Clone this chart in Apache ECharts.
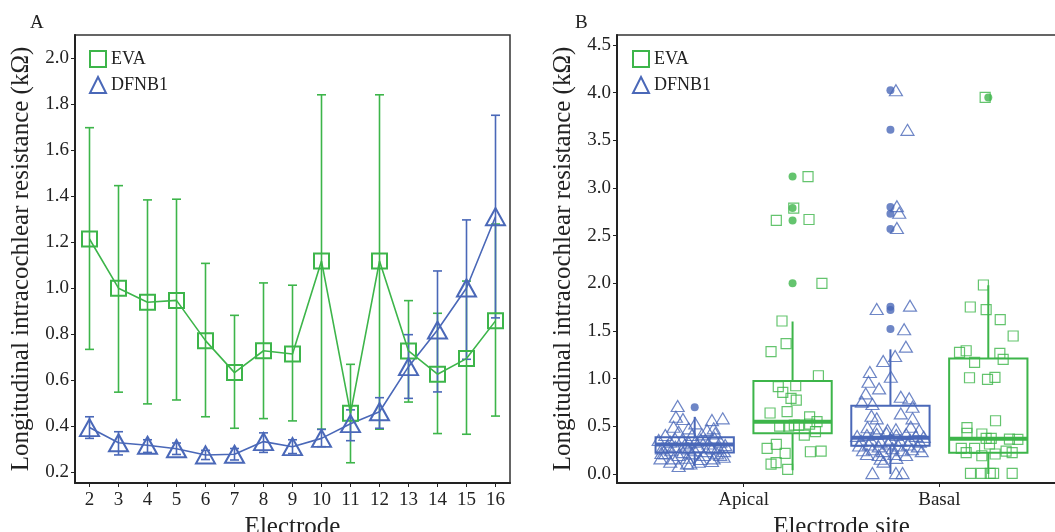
<!DOCTYPE html>
<html>
<head>
<meta charset="utf-8">
<script src="https://cdn.jsdelivr.net/npm/echarts@6/dist/echarts.min.js"></script>
<style>html,body{margin:0;padding:0;background:#fff}#main{width:1055px;height:532px}</style>
</head>
<body>
<div id="main"></div>
<script>
// panel A: mean resistance per electrode with error bars
var electrodes = ['2','3','4','5','6','7','8','9','10','11','12','13','14','15','16'];
var evaMean  = [1.213,0.999,0.938,0.946,0.771,0.632,0.727,0.713,1.117,0.455,1.117,0.726,0.625,0.693,0.857];
var evaLow   = [0.733,0.547,0.496,0.513,0.440,0.390,0.432,0.422,0.386,0.240,0.386,0.504,0.367,0.364,0.443];
var evaHigh  = [1.697,1.445,1.383,1.386,1.107,0.881,1.022,1.012,1.840,0.668,1.840,0.945,0.890,1.030,1.278];
var dfnbMean = [0.393,0.327,0.316,0.301,0.274,0.277,0.332,0.310,0.346,0.410,0.462,0.658,0.817,1.000,1.310];
var dfnbLow  = [0.346,0.274,0.285,0.276,0.254,0.252,0.285,0.280,0.310,0.336,0.390,0.520,0.548,0.690,0.870];
var dfnbHigh = [0.440,0.375,0.340,0.326,0.294,0.302,0.370,0.340,0.385,0.470,0.523,0.797,1.074,1.296,1.751];

// panel B: box stats per site [min, q1, median, q3, max]
var sites = ['Apical','Basal'];
var dfnbBox = [[0.085,0.225,0.31,0.385,0.60],[0.0,0.297,0.38,0.717,1.308]];
var evaBox  = [[0.04,0.427,0.549,0.976,1.60],[0.0,0.224,0.37,1.213,1.98]];
var dfnbOut = [[0.70],[1.52,1.72,1.755,2.57,2.73,2.80,3.61,4.025]];
var evaOut  = [[2.0,2.66,2.79,3.12],[3.95]];

// jittered measurements [x jitter, value]
var dfnbApical = [[-0.087,0.713],[-0.096,0.601],[-0.06,0.577],[0.003,0.531],[0.088,0.566],[0.143,0.584],[-0.108,0.496],[-0.031,0.479],[0.097,0.479],[-0.082,0.444],[0.063,0.461],[0.105,0.427],[-0.15,0.409],[-0.014,0.409],[0.037,0.416],
  [-0.184,0.357],[-0.125,0.339],[-0.065,0.357],[0.003,0.339],[0.054,0.357],[0.131,0.339],[-0.167,0.269],[-0.099,0.287],[-0.031,0.269],[0.02,0.287],[0.088,0.269],[0.156,0.304],
  [-0.15,0.217],[-0.082,0.199],[-0.014,0.217],[0.046,0.199],[0.114,0.217],[-0.175,0.164],[-0.108,0.164],[-0.039,0.171],[0.029,0.157],[0.097,0.164],[0.148,0.182],
  [-0.125,0.129],[-0.039,0.112],[0.02,0.129],[0.088,0.136],[-0.082,0.085],[-0.022,0.11],
  [-0.14,0.30],[-0.05,0.31],[0.07,0.32],[0.12,0.28],[-0.12,0.25],[0.0,0.25],[0.06,0.24],[-0.06,0.23],[0.15,0.24],[-0.17,0.22],[0.03,0.36],[-0.1,0.37],[0.1,0.38],[-0.03,0.33],[0.13,0.20]];
var evaApical = [[-0.054,1.605],[-0.033,1.367],[-0.11,1.283],[0.132,1.031],[-0.073,0.916],[0.016,0.926],[-0.05,0.857],[-0.008,0.794],[0.019,0.776],[-0.115,0.64],[-0.028,0.654],[0.087,0.60],
  [-0.066,0.503],[0.009,0.514],[-0.02,0.503],[0.125,0.549],[0.087,0.524],[0.031,0.514],[0.117,0.444],[0.06,0.409],[-0.13,0.27],[-0.083,0.311],[-0.038,0.217],[0.091,0.234],[0.146,0.241],
  [-0.084,0.119],[-0.11,0.105],[-0.025,0.049],[0.15,2.0],[-0.083,2.66],[0.084,2.67],[0.006,2.79],[0.079,3.12]];
var dfnbBasal = [[-0.07,1.731],[0.1,1.766],[0.07,1.518],[0.079,1.336],[-0.037,1.185],[0.024,1.238],[-0.105,1.07],[0.002,1.021],[-0.112,0.968],[-0.058,0.898],[-0.126,0.846],[0.053,0.811],[0.096,0.794],
  [-0.146,0.758],[-0.092,0.734],[0.113,0.706],[0.053,0.636],[-0.097,0.612],[-0.07,0.584],[0.113,0.584],[-0.117,0.49],[-0.066,0.479],[-0.015,0.461],[0.028,0.469],[0.104,0.496],[0.147,0.461],
  [-0.17,0.40],[-0.12,0.41],[-0.07,0.42],[-0.02,0.43],[0.03,0.41],[0.08,0.42],[0.13,0.40],[0.17,0.39],[-0.15,0.35],[-0.1,0.36],[-0.05,0.34],[0.0,0.37],[0.05,0.35],[0.1,0.36],[0.15,0.34],
  [-0.16,0.30],[-0.11,0.31],[-0.06,0.29],[-0.01,0.32],[0.04,0.30],[0.09,0.31],[0.14,0.29],[-0.14,0.25],[-0.09,0.26],[-0.04,0.24],[0.01,0.27],[0.06,0.25],[0.11,0.26],[0.16,0.24],
  [-0.12,0.21],[-0.06,0.20],[0.02,0.21],[0.08,0.20],[-0.05,0.16],[0.03,0.17],[-0.035,0.13],[-0.092,0.01],[0.028,0.01],[0.062,0.01],
  [0.028,4.025],[0.087,3.61],[0.033,2.81],[0.045,2.74],[0.033,2.58]];
var evaBasal = [[-0.025,1.983],[-0.092,1.752],[-0.011,1.724],[0.061,1.619],[0.127,1.448],[-0.147,1.276],[-0.113,1.293],[-0.07,1.171],[0.059,1.266],[0.076,1.203],[-0.096,1.01],[-0.004,0.993],[0.034,1.014],
  [0.037,0.559],[-0.109,0.486],[-0.109,0.427],[-0.033,0.42],[-0.011,0.374],[0.015,0.374],[0.006,0.315],[0.108,0.367],[0.151,0.364],[-0.138,0.27],[-0.07,0.27],[-0.113,0.224],[-0.033,0.192],
  [0.035,0.21],[0.091,0.241],[0.122,0.224],[-0.091,0.007],[-0.036,0.007],[0.01,0.007],[0.027,0.007],[0.122,0.007],[-0.016,3.95]];

var green = '#3db54a', blue = '#4a68b8';
var serif = 'Liberation Serif';
var dodge = 0.25, boxHalf = 0.2;

function place(pts, site, shift) {
  return pts.map(function (p) { return [site + shift + p[0], p[1]]; });
}
function boxRows(stats, shift) {
  return stats.map(function (s, i) { return [i + 1 + shift].concat(s); });
}
function outRows(outs, shift) {
  var r = [];
  outs.forEach(function (o, i) { o.forEach(function (v) { r.push([i + 1 + shift, v]); }); });
  return r;
}
function errRows(lo, hi) {
  return lo.map(function (v, i) { return [i, v, hi[i]]; });
}

function renderErr(color) {
  return function (params, api) {
    var x = api.value(0);
    var a = api.coord([x, api.value(1)]);
    var b = api.coord([x, api.value(2)]);
    var st = { stroke: color, lineWidth: 1.6 };
    return { type: 'group', children: [
      { type: 'line', shape: { x1: a[0], y1: a[1], x2: b[0], y2: b[1] }, style: st },
      { type: 'line', shape: { x1: a[0] - 4.5, y1: a[1], x2: a[0] + 4.5, y2: a[1] }, style: st },
      { type: 'line', shape: { x1: b[0] - 4.5, y1: b[1], x2: b[0] + 4.5, y2: b[1] }, style: st }
    ]};
  };
}

function renderBox(color) {
  return function (params, api) {
    var x = api.value(0);
    var lo = api.coord([x, api.value(1)]);
    var q1 = api.coord([x, api.value(2)]);
    var md = api.coord([x, api.value(3)]);
    var q3 = api.coord([x, api.value(4)]);
    var hi = api.coord([x, api.value(5)]);
    var l = api.coord([x - boxHalf, 0])[0], r = api.coord([x + boxHalf, 0])[0];
    var st = { stroke: color, lineWidth: 2, fill: null };
    return { type: 'group', children: [
      { type: 'line', shape: { x1: hi[0], y1: hi[1], x2: q3[0], y2: q3[1] }, style: st },
      { type: 'line', shape: { x1: lo[0], y1: lo[1], x2: q1[0], y2: q1[1] }, style: st },
      { type: 'rect', shape: { x: l, y: q3[1], width: r - l, height: q1[1] - q3[1] }, style: st },
      { type: 'line', shape: { x1: l, y1: md[1], x2: r, y2: md[1] }, style: { stroke: color, lineWidth: 4 } }
    ]};
  };
}

var hollow = function (c, w) { return { color: 'rgba(0,0,0,0)', borderColor: c, borderWidth: w }; };
var tick = function (v) { return v.toFixed(1); };
var txt = { fontFamily: serif, fontSize: 19, color: '#222' };
var nameTxt = { fontFamily: serif, fontSize: 25, color: '#222' };
var axisLine = { show: true, onZero: false, lineStyle: { color: '#222', width: 2 } };
var axisTick = { show: true, length: 4, lineStyle: { color: '#222', width: 1 } };

var legendData = [
  { name: 'EVA', icon: 'rect', itemStyle: hollow(green, 2) },
  { name: 'DFNB1', icon: 'triangle', itemStyle: hollow(blue, 2) }
];
var legendText = { fontFamily: serif, fontSize: 18, color: '#222' };
var letterText = { fontFamily: serif, fontSize: 19, fontWeight: 'normal', color: '#222' };

var yTicksA = [0.2,0.4,0.6,0.8,1.0,1.2,1.4,1.6,1.8,2.0];
var yTicksB = [0,0.5,1,1.5,2,2.5,3,3.5,4,4.5];

var myChart = echarts.init(document.getElementById('main'));
var option = {
  animation: false,
  title: [
    { text: 'A', left: 30, top: 14, padding: 0, textStyle: letterText },
    { text: 'B', left: 575, top: 14, padding: 0, textStyle: letterText }
  ],
  legend: [
    { left: 84, top: 45, orient: 'vertical', itemGap: 8, itemWidth: 16, itemHeight: 16, selectedMode: false, textStyle: legendText, data: legendData },
    { left: 627, top: 45, orient: 'vertical', itemGap: 8, itemWidth: 16, itemHeight: 16, selectedMode: false, textStyle: legendText, data: legendData }
  ],
  grid: [
    { left: 75, top: 35, width: 435, height: 448, show: true, borderColor: '#333', borderWidth: 1.5, outerBoundsMode: 'none', containLabel: false },
    { left: 617, top: 35, width: 449, height: 448, show: true, borderColor: '#333', borderWidth: 1.5, outerBoundsMode: 'none', containLabel: false }
  ],
  xAxis: [
    { type: 'category', gridIndex: 0, data: electrodes, boundaryGap: true,
      name: 'Electrode', nameLocation: 'middle', nameGap: 25, nameTextStyle: nameTxt,
      axisLine: axisLine, axisTick: { show: true, length: 4, alignWithLabel: true, lineStyle: { color: '#222' } },
      axisLabel: Object.assign({ margin: 8 }, txt) },
    { type: 'value', gridIndex: 1, min: 0.353, max: 2.647,
      name: 'Electrode site', nameLocation: 'middle', nameGap: 25, nameTextStyle: nameTxt,
      axisLine: axisLine, axisTick: Object.assign({ customValues: [1, 2] }, axisTick), splitLine: { show: false },
      axisLabel: Object.assign({ margin: 8, customValues: [1, 2], formatter: function (v) { return sites[Math.round(v) - 1]; } }, txt) }
  ],
  yAxis: [
    { type: 'value', gridIndex: 0, min: 0.152, max: 2.1,
      name: 'Longitudinal intracochlear resistance (kΩ)', nameLocation: 'middle', nameGap: 41, nameTextStyle: nameTxt,
      axisLine: axisLine, axisTick: Object.assign({ customValues: yTicksA }, axisTick), splitLine: { show: false },
      axisLabel: Object.assign({ margin: 6, customValues: yTicksA, formatter: tick }, txt) },
    { type: 'value', gridIndex: 1, min: -0.094, max: 4.605,
      name: 'Longitudinal intracochlear resistance (kΩ)', nameLocation: 'middle', nameGap: 41, nameTextStyle: nameTxt,
      axisLine: axisLine, axisTick: Object.assign({ customValues: yTicksB }, axisTick), splitLine: { show: false },
      axisLabel: Object.assign({ margin: 6, customValues: yTicksB, formatter: tick }, txt) }
  ],
  series: [
    { type: 'custom', name: 'EVA', xAxisIndex: 0, yAxisIndex: 0, renderItem: renderErr(green), data: errRows(evaLow, evaHigh), z: 2 },
    { type: 'custom', name: 'DFNB1', xAxisIndex: 0, yAxisIndex: 0, renderItem: renderErr(blue), data: errRows(dfnbLow, dfnbHigh), z: 2 },
    { type: 'line', name: 'EVA', xAxisIndex: 0, yAxisIndex: 0, data: evaMean, symbol: 'rect', symbolSize: 15,
      lineStyle: { color: green, width: 1.6 }, itemStyle: hollow(green, 2), z: 3 },
    { type: 'line', name: 'DFNB1', xAxisIndex: 0, yAxisIndex: 0, data: dfnbMean, symbol: 'triangle', symbolSize: [19, 17],
      lineStyle: { color: blue, width: 1.6 }, itemStyle: hollow(blue, 2), z: 3 },

    { type: 'custom', name: 'DFNB1', xAxisIndex: 1, yAxisIndex: 1, renderItem: renderBox(blue), data: boxRows(dfnbBox, -dodge), z: 2 },
    { type: 'custom', name: 'EVA', xAxisIndex: 1, yAxisIndex: 1, renderItem: renderBox(green), data: boxRows(evaBox, dodge), z: 2 },
    { type: 'scatter', name: 'DFNB1', xAxisIndex: 1, yAxisIndex: 1, symbol: 'circle', symbolSize: 8,
      itemStyle: { color: blue }, data: outRows(dfnbOut, -dodge), z: 3 },
    { type: 'scatter', name: 'EVA', xAxisIndex: 1, yAxisIndex: 1, symbol: 'circle', symbolSize: 8,
      itemStyle: { color: green }, data: outRows(evaOut, dodge), z: 3 },
    { type: 'scatter', name: 'DFNB1', xAxisIndex: 1, yAxisIndex: 1, symbol: 'triangle', symbolSize: [13, 11],
      itemStyle: hollow(blue, 1.2), data: place(dfnbApical, 1, -dodge).concat(place(dfnbBasal, 2, -dodge)), z: 4 },
    { type: 'scatter', name: 'EVA', xAxisIndex: 1, yAxisIndex: 1, symbol: 'rect', symbolSize: 10,
      itemStyle: hollow(green, 1.2), data: place(evaApical, 1, dodge).concat(place(evaBasal, 2, dodge)), z: 4 }
  ]
};
myChart.setOption(option);
</script>
</body>
</html>
